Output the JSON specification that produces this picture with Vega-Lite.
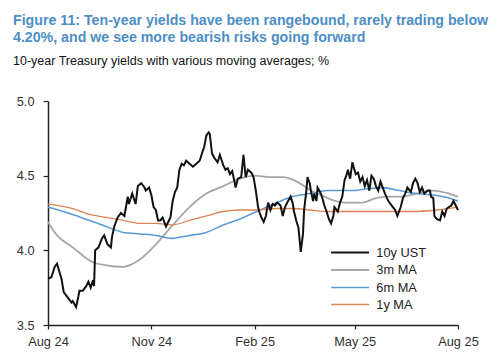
{
  "$schema": "https://vega.github.io/schema/vega-lite/v6.json",
  "width": 410,
  "height": 224,
  "autosize": "none",
  "padding": {"left": 48, "top": 101, "right": 42, "bottom": 35},
  "background": "white",
  "title": {
    "text": ["Figure 11: Ten-year yields have been rangebound, rarely trading below", "4.20%, and we see more bearish risks going forward"],
    "subtitle": "10-year Treasury yields with various moving averages; %",
    "anchor": "start",
    "frame": "group",
    "dx": -35,
    "offset": 28,
    "font": "Liberation Sans",
    "fontSize": 14.2,
    "fontWeight": "bold",
    "color": "#4d8ec6",
    "lineHeight": 17,
    "subtitleFont": "Liberation Sans",
    "subtitleFontSize": 12.5,
    "subtitleColor": "#111111",
    "subtitlePadding": 9
  },
  "config": {
    "view": {"stroke": null},
    "axis": {"labelFont": "Liberation Sans", "labelFontSize": 12.8, "labelColor": "#333333", "domainColor": "#222222", "tickColor": "#222222", "grid": false, "title": null}
  },
  "data": {"values": [
    {"d":"2024-08-01","s":"10y UST","v":3.81},{"d":"2024-08-04","s":"10y UST","v":3.82},{"d":"2024-08-07","s":"10y UST","v":3.89},{"d":"2024-08-09","s":"10y UST","v":3.91},{"d":"2024-08-11","s":"10y UST","v":3.86},{"d":"2024-08-13","s":"10y UST","v":3.81},{"d":"2024-08-15","s":"10y UST","v":3.72},{"d":"2024-08-17","s":"10y UST","v":3.70},{"d":"2024-08-20","s":"10y UST","v":3.67},{"d":"2024-08-22","s":"10y UST","v":3.65},{"d":"2024-08-23","s":"10y UST","v":3.66},{"d":"2024-08-26","s":"10y UST","v":3.62},{"d":"2024-08-28","s":"10y UST","v":3.69},{"d":"2024-08-29","s":"10y UST","v":3.73},{"d":"2024-09-01","s":"10y UST","v":3.73},{"d":"2024-09-04","s":"10y UST","v":3.76},{"d":"2024-09-06","s":"10y UST","v":3.79},{"d":"2024-09-08","s":"10y UST","v":3.75},{"d":"2024-09-10","s":"10y UST","v":3.80},{"d":"2024-09-11","s":"10y UST","v":3.76},{"d":"2024-09-12","s":"10y UST","v":4.00},{"d":"2024-09-15","s":"10y UST","v":4.02},{"d":"2024-09-18","s":"10y UST","v":4.08},{"d":"2024-09-20","s":"10y UST","v":4.10},{"d":"2024-09-23","s":"10y UST","v":4.04},{"d":"2024-09-26","s":"10y UST","v":4.02},{"d":"2024-09-27","s":"10y UST","v":4.09},{"d":"2024-09-29","s":"10y UST","v":4.16},{"d":"2024-10-02","s":"10y UST","v":4.22},{"d":"2024-10-05","s":"10y UST","v":4.25},{"d":"2024-10-08","s":"10y UST","v":4.23},{"d":"2024-10-11","s":"10y UST","v":4.36},{"d":"2024-10-12","s":"10y UST","v":4.31},{"d":"2024-10-15","s":"10y UST","v":4.38},{"d":"2024-10-18","s":"10y UST","v":4.31},{"d":"2024-10-20","s":"10y UST","v":4.43},{"d":"2024-10-23","s":"10y UST","v":4.45},{"d":"2024-10-26","s":"10y UST","v":4.42},{"d":"2024-10-27","s":"10y UST","v":4.40},{"d":"2024-10-30","s":"10y UST","v":4.42},{"d":"2024-11-01","s":"10y UST","v":4.37},{"d":"2024-11-03","s":"10y UST","v":4.29},{"d":"2024-11-05","s":"10y UST","v":4.27},{"d":"2024-11-07","s":"10y UST","v":4.20},{"d":"2024-11-09","s":"10y UST","v":4.20},{"d":"2024-11-11","s":"10y UST","v":4.22},{"d":"2024-11-14","s":"10y UST","v":4.16},{"d":"2024-11-16","s":"10y UST","v":4.19},{"d":"2024-11-18","s":"10y UST","v":4.22},{"d":"2024-11-20","s":"10y UST","v":4.33},{"d":"2024-11-22","s":"10y UST","v":4.39},{"d":"2024-11-24","s":"10y UST","v":4.42},{"d":"2024-11-26","s":"10y UST","v":4.54},{"d":"2024-11-28","s":"10y UST","v":4.58},{"d":"2024-11-30","s":"10y UST","v":4.57},{"d":"2024-12-02","s":"10y UST","v":4.60},{"d":"2024-12-05","s":"10y UST","v":4.58},{"d":"2024-12-08","s":"10y UST","v":4.56},{"d":"2024-12-11","s":"10y UST","v":4.58},{"d":"2024-12-14","s":"10y UST","v":4.60},{"d":"2024-12-17","s":"10y UST","v":4.67},{"d":"2024-12-18","s":"10y UST","v":4.69},{"d":"2024-12-20","s":"10y UST","v":4.77},{"d":"2024-12-22","s":"10y UST","v":4.79},{"d":"2024-12-23","s":"10y UST","v":4.78},{"d":"2024-12-25","s":"10y UST","v":4.65},{"d":"2024-12-27","s":"10y UST","v":4.62},{"d":"2024-12-30","s":"10y UST","v":4.59},{"d":"2025-01-01","s":"10y UST","v":4.64},{"d":"2025-01-04","s":"10y UST","v":4.57},{"d":"2025-01-06","s":"10y UST","v":4.54},{"d":"2025-01-08","s":"10y UST","v":4.55},{"d":"2025-01-10","s":"10y UST","v":4.51},{"d":"2025-01-12","s":"10y UST","v":4.53},{"d":"2025-01-14","s":"10y UST","v":4.46},{"d":"2025-01-15","s":"10y UST","v":4.42},{"d":"2025-01-17","s":"10y UST","v":4.48},{"d":"2025-01-20","s":"10y UST","v":4.49},{"d":"2025-01-22","s":"10y UST","v":4.64},{"d":"2025-01-24","s":"10y UST","v":4.49},{"d":"2025-01-26","s":"10y UST","v":4.54},{"d":"2025-01-29","s":"10y UST","v":4.52},{"d":"2025-01-31","s":"10y UST","v":4.49},{"d":"2025-02-02","s":"10y UST","v":4.40},{"d":"2025-02-04","s":"10y UST","v":4.29},{"d":"2025-02-05","s":"10y UST","v":4.26},{"d":"2025-02-07","s":"10y UST","v":4.22},{"d":"2025-02-09","s":"10y UST","v":4.19},{"d":"2025-02-11","s":"10y UST","v":4.23},{"d":"2025-02-13","s":"10y UST","v":4.32},{"d":"2025-02-15","s":"10y UST","v":4.27},{"d":"2025-02-17","s":"10y UST","v":4.31},{"d":"2025-02-19","s":"10y UST","v":4.30},{"d":"2025-02-21","s":"10y UST","v":4.32},{"d":"2025-02-24","s":"10y UST","v":4.30},{"d":"2025-02-26","s":"10y UST","v":4.23},{"d":"2025-02-28","s":"10y UST","v":4.29},{"d":"2025-03-02","s":"10y UST","v":4.32},{"d":"2025-03-05","s":"10y UST","v":4.36},{"d":"2025-03-07","s":"10y UST","v":4.31},{"d":"2025-03-08","s":"10y UST","v":4.26},{"d":"2025-03-10","s":"10y UST","v":4.20},{"d":"2025-03-12","s":"10y UST","v":4.15},{"d":"2025-03-14","s":"10y UST","v":3.99},{"d":"2025-03-16","s":"10y UST","v":4.11},{"d":"2025-03-17","s":"10y UST","v":4.27},{"d":"2025-03-19","s":"10y UST","v":4.40},{"d":"2025-03-20","s":"10y UST","v":4.49},{"d":"2025-03-22","s":"10y UST","v":4.45},{"d":"2025-03-23","s":"10y UST","v":4.40},{"d":"2025-03-25","s":"10y UST","v":4.33},{"d":"2025-03-26","s":"10y UST","v":4.38},{"d":"2025-03-28","s":"10y UST","v":4.33},{"d":"2025-03-29","s":"10y UST","v":4.42},{"d":"2025-04-01","s":"10y UST","v":4.38},{"d":"2025-04-03","s":"10y UST","v":4.33},{"d":"2025-04-04","s":"10y UST","v":4.30},{"d":"2025-04-06","s":"10y UST","v":4.26},{"d":"2025-04-08","s":"10y UST","v":4.21},{"d":"2025-04-10","s":"10y UST","v":4.18},{"d":"2025-04-12","s":"10y UST","v":4.23},{"d":"2025-04-13","s":"10y UST","v":4.29},{"d":"2025-04-16","s":"10y UST","v":4.26},{"d":"2025-04-18","s":"10y UST","v":4.32},{"d":"2025-04-20","s":"10y UST","v":4.36},{"d":"2025-04-22","s":"10y UST","v":4.47},{"d":"2025-04-24","s":"10y UST","v":4.51},{"d":"2025-04-25","s":"10y UST","v":4.54},{"d":"2025-04-27","s":"10y UST","v":4.48},{"d":"2025-04-29","s":"10y UST","v":4.59},{"d":"2025-04-30","s":"10y UST","v":4.56},{"d":"2025-05-02","s":"10y UST","v":4.51},{"d":"2025-05-04","s":"10y UST","v":4.52},{"d":"2025-05-06","s":"10y UST","v":4.46},{"d":"2025-05-08","s":"10y UST","v":4.49},{"d":"2025-05-10","s":"10y UST","v":4.43},{"d":"2025-05-12","s":"10y UST","v":4.47},{"d":"2025-05-14","s":"10y UST","v":4.40},{"d":"2025-05-16","s":"10y UST","v":4.50},{"d":"2025-05-18","s":"10y UST","v":4.48},{"d":"2025-05-20","s":"10y UST","v":4.43},{"d":"2025-05-22","s":"10y UST","v":4.40},{"d":"2025-05-24","s":"10y UST","v":4.46},{"d":"2025-05-26","s":"10y UST","v":4.42},{"d":"2025-05-28","s":"10y UST","v":4.38},{"d":"2025-05-31","s":"10y UST","v":4.33},{"d":"2025-06-03","s":"10y UST","v":4.30},{"d":"2025-06-06","s":"10y UST","v":4.27},{"d":"2025-06-08","s":"10y UST","v":4.23},{"d":"2025-06-11","s":"10y UST","v":4.29},{"d":"2025-06-13","s":"10y UST","v":4.35},{"d":"2025-06-15","s":"10y UST","v":4.38},{"d":"2025-06-17","s":"10y UST","v":4.42},{"d":"2025-06-20","s":"10y UST","v":4.39},{"d":"2025-06-22","s":"10y UST","v":4.45},{"d":"2025-06-24","s":"10y UST","v":4.48},{"d":"2025-06-26","s":"10y UST","v":4.45},{"d":"2025-06-28","s":"10y UST","v":4.39},{"d":"2025-06-30","s":"10y UST","v":4.42},{"d":"2025-07-02","s":"10y UST","v":4.38},{"d":"2025-07-05","s":"10y UST","v":4.40},{"d":"2025-07-07","s":"10y UST","v":4.40},{"d":"2025-07-08","s":"10y UST","v":4.36},{"d":"2025-07-10","s":"10y UST","v":4.35},{"d":"2025-07-11","s":"10y UST","v":4.23},{"d":"2025-07-13","s":"10y UST","v":4.21},{"d":"2025-07-16","s":"10y UST","v":4.20},{"d":"2025-07-18","s":"10y UST","v":4.26},{"d":"2025-07-20","s":"10y UST","v":4.23},{"d":"2025-07-22","s":"10y UST","v":4.28},{"d":"2025-07-24","s":"10y UST","v":4.29},{"d":"2025-07-26","s":"10y UST","v":4.30},{"d":"2025-07-28","s":"10y UST","v":4.33},{"d":"2025-07-30","s":"10y UST","v":4.30},{"d":"2025-08-01","s":"10y UST","v":4.27},
    {"d":"2024-08-01","s":"3m MA","v":4.19},{"d":"2024-08-08","s":"3m MA","v":4.11},{"d":"2024-08-23","s":"3m MA","v":4.02},{"d":"2024-09-10","s":"3m MA","v":3.92},{"d":"2024-09-22","s":"3m MA","v":3.90},{"d":"2024-10-07","s":"3m MA","v":3.89},{"d":"2024-10-22","s":"3m MA","v":3.94},{"d":"2024-11-05","s":"3m MA","v":4.04},{"d":"2024-11-19","s":"3m MA","v":4.16},{"d":"2024-12-05","s":"3m MA","v":4.29},{"d":"2024-12-20","s":"3m MA","v":4.38},{"d":"2025-01-04","s":"3m MA","v":4.43},{"d":"2025-01-19","s":"3m MA","v":4.48},{"d":"2025-02-01","s":"3m MA","v":4.50},{"d":"2025-02-14","s":"3m MA","v":4.49},{"d":"2025-02-26","s":"3m MA","v":4.49},{"d":"2025-03-08","s":"3m MA","v":4.47},{"d":"2025-03-17","s":"3m MA","v":4.43},{"d":"2025-03-23","s":"3m MA","v":4.40},{"d":"2025-04-01","s":"3m MA","v":4.37},{"d":"2025-04-10","s":"3m MA","v":4.34},{"d":"2025-04-22","s":"3m MA","v":4.32},{"d":"2025-05-08","s":"3m MA","v":4.32},{"d":"2025-05-20","s":"3m MA","v":4.35},{"d":"2025-06-01","s":"3m MA","v":4.36},{"d":"2025-06-13","s":"3m MA","v":4.36},{"d":"2025-06-25","s":"3m MA","v":4.38},{"d":"2025-07-10","s":"3m MA","v":4.40},{"d":"2025-07-24","s":"3m MA","v":4.38},{"d":"2025-08-01","s":"3m MA","v":4.36},
    {"d":"2024-08-01","s":"6m MA","v":4.29},{"d":"2024-08-23","s":"6m MA","v":4.24},{"d":"2024-09-07","s":"6m MA","v":4.20},{"d":"2024-09-22","s":"6m MA","v":4.16},{"d":"2024-10-07","s":"6m MA","v":4.12},{"d":"2024-10-22","s":"6m MA","v":4.11},{"d":"2024-11-05","s":"6m MA","v":4.10},{"d":"2024-11-19","s":"6m MA","v":4.08},{"d":"2024-12-05","s":"6m MA","v":4.10},{"d":"2024-12-20","s":"6m MA","v":4.12},{"d":"2025-01-04","s":"6m MA","v":4.17},{"d":"2025-01-19","s":"6m MA","v":4.21},{"d":"2025-02-03","s":"6m MA","v":4.26},{"d":"2025-02-21","s":"6m MA","v":4.32},{"d":"2025-03-07","s":"6m MA","v":4.36},{"d":"2025-03-22","s":"6m MA","v":4.38},{"d":"2025-04-07","s":"6m MA","v":4.40},{"d":"2025-04-28","s":"6m MA","v":4.40},{"d":"2025-05-11","s":"6m MA","v":4.41},{"d":"2025-05-26","s":"6m MA","v":4.42},{"d":"2025-06-10","s":"6m MA","v":4.40},{"d":"2025-06-25","s":"6m MA","v":4.38},{"d":"2025-07-10","s":"6m MA","v":4.37},{"d":"2025-07-24","s":"6m MA","v":4.35},{"d":"2025-08-01","s":"6m MA","v":4.33},
    {"d":"2024-08-01","s":"1y MA","v":4.31},{"d":"2024-08-23","s":"1y MA","v":4.28},{"d":"2024-09-07","s":"1y MA","v":4.24},{"d":"2024-09-22","s":"1y MA","v":4.22},{"d":"2024-10-07","s":"1y MA","v":4.20},{"d":"2024-10-22","s":"1y MA","v":4.18},{"d":"2024-11-05","s":"1y MA","v":4.18},{"d":"2024-11-19","s":"1y MA","v":4.17},{"d":"2024-12-05","s":"1y MA","v":4.20},{"d":"2024-12-20","s":"1y MA","v":4.23},{"d":"2025-01-04","s":"1y MA","v":4.26},{"d":"2025-01-19","s":"1y MA","v":4.27},{"d":"2025-02-03","s":"1y MA","v":4.27},{"d":"2025-02-21","s":"1y MA","v":4.28},{"d":"2025-03-07","s":"1y MA","v":4.28},{"d":"2025-03-22","s":"1y MA","v":4.27},{"d":"2025-04-07","s":"1y MA","v":4.26},{"d":"2025-04-22","s":"1y MA","v":4.26},{"d":"2025-05-20","s":"1y MA","v":4.26},{"d":"2025-06-20","s":"1y MA","v":4.26},{"d":"2025-07-13","s":"1y MA","v":4.27},{"d":"2025-08-01","s":"1y MA","v":4.29}
  ]},
  "encoding": {
    "x": {"field": "d", "type": "temporal",
      "scale": {"type": "utc", "domain": [{"year": 2024, "month": 8, "date": 1, "utc": true}, {"year": 2025, "month": 8, "date": 1, "utc": true}]},
      "axis": {"values": [{"year": 2024, "month": 8, "date": 1, "utc": true}, {"year": 2024, "month": 11, "date": 1, "utc": true}, {"year": 2025, "month": 2, "date": 1, "utc": true}, {"year": 2025, "month": 5, "date": 1, "utc": true}, {"year": 2025, "month": 8, "date": 1, "utc": true}],
        "labelExpr": "utcFormat(datum.value, '%b %y')", "tickSize": 4, "tickWidth": 1.2, "domainWidth": 1.5, "labelPadding": 6, "labelOverlap": false, "labelFlush": false}},
    "y": {"field": "v", "type": "quantitative",
      "scale": {"domain": [3.5, 5], "zero": false, "nice": false},
      "axis": {"values": [3.5, 4, 4.5, 5], "format": ".1f", "tickSize": 5, "tickWidth": 1.2, "domainWidth": 1.5, "labelPadding": 9}},
    "color": {"field": "s", "type": "nominal",
      "scale": {"domain": ["10y UST", "3m MA", "6m MA", "1y MA"], "range": ["#111111", "#a6a6a6", "#5b9bd5", "#dd8452"]},
      "legend": {"title": null, "orient": "none", "legendX": 294.6, "legendY": 144, "symbolType": "M-3,0H3", "symbolSize": 160, "labelFont": "Liberation Sans", "labelFontSize": 12.8, "labelColor": "#222222", "labelOffset": 18.7, "rowPadding": 2.5, "padding": 0}},
    "strokeWidth": {"field": "s", "type": "nominal",
      "scale": {"domain": ["10y UST", "3m MA", "6m MA", "1y MA"], "range": [2, 1.3, 1.3, 1.5]}}
  },
  "layer": [
    {"transform": [{"filter": "datum.s !== '10y UST'"}], "mark": {"type": "line", "interpolate": "monotone"}},
    {"transform": [{"filter": "datum.s === '10y UST'"}], "mark": {"type": "line"}}
  ]
}
